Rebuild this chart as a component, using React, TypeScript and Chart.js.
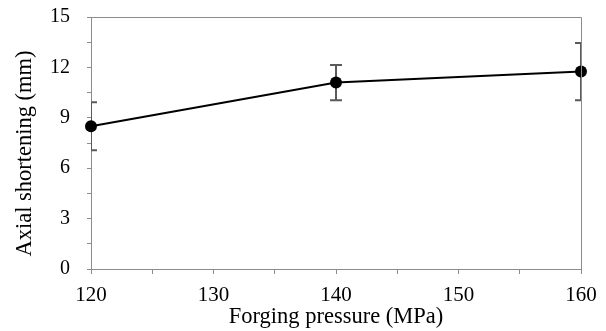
import React, { useEffect, useRef } from "react";
import { Chart, registerables } from "chart.js";

Chart.register(...registerables);

const pressures = [120, 140, 160];
const shortening = [8.5, 11.1, 11.75];
const errors = [1.43, 1.05, 1.7];
const xTickLabels = ["120", "130", "140", "150", "160"];
const yTickLabels = ["0", "3", "6", "9", "12", "15"];
const xTitle = "Forging pressure (MPa)";
const yTitle = "Axial shortening (mm)";

const FONT = "'Liberation Serif', 'Times New Roman', serif";
const AXIS_GRAY = "#8c8c8c";
const ERR_GRAY = "#5a5a5a";

const errorBarPlugin = {
  id: "errorBars",
  beforeDatasetsDraw(chart: any) {
    const { ctx, chartArea, scales } = chart;
    ctx.save();
    ctx.beginPath();
    ctx.rect(chartArea.left, chartArea.top, chartArea.right - chartArea.left, chartArea.bottom - chartArea.top);
    ctx.clip();
    ctx.strokeStyle = ERR_GRAY;
    ctx.lineWidth = 2;
    const cap = 6;
    pressures.forEach((p, i) => {
      const x = scales.x.getPixelForValue(p);
      const yTop = scales.y.getPixelForValue(shortening[i] + errors[i]);
      const yBot = scales.y.getPixelForValue(shortening[i] - errors[i]);
      ctx.beginPath();
      ctx.moveTo(x, yTop);
      ctx.lineTo(x, yBot);
      ctx.moveTo(x - cap, yTop);
      ctx.lineTo(x + cap, yTop);
      ctx.moveTo(x - cap, yBot);
      ctx.lineTo(x + cap, yBot);
      ctx.stroke();
    });
    ctx.restore();
  },
  afterDraw(chart: any) {
    const { ctx, chartArea } = chart;
    ctx.save();
    ctx.strokeStyle = AXIS_GRAY;
    ctx.lineWidth = 1;
    ctx.beginPath();
    ctx.moveTo(chartArea.left, chartArea.top + 0.5);
    ctx.lineTo(chartArea.right + 0.5, chartArea.top + 0.5);
    ctx.lineTo(chartArea.right + 0.5, chartArea.bottom);
    ctx.stroke();
    // y axis title
    ctx.translate(25, 153.5);
    ctx.rotate(-Math.PI / 2);
    ctx.fillStyle = "#000";
    ctx.font = `22.5px ${FONT}`;
    ctx.textAlign = "center";
    ctx.textBaseline = "middle";
    ctx.fillText(yTitle, 0, 0);
    ctx.restore();
  },
};

export default function App() {
  const ref = useRef<HTMLCanvasElement | null>(null);
  useEffect(() => {
    document.body.style.margin = "0";
    const canvas = ref.current;
    if (!canvas) return;
    const chart = new Chart(canvas, {
      type: "line",
      data: {
        datasets: [
          {
            data: pressures.map((p, i) => ({ x: p, y: shortening[i] })),
            borderColor: "#000",
            backgroundColor: "#000",
            borderWidth: 2,
            pointRadius: 6,
            pointBackgroundColor: "#000",
            pointBorderColor: "#000",
            pointBorderWidth: 0,
            tension: 0,
            clip: false as any,
          },
        ],
      },
      options: {
        animation: false,
        responsive: false,
        devicePixelRatio: 1,
        layout: { padding: { top: 17, right: 25, left: 0, bottom: 0 } },
        plugins: { legend: { display: false }, tooltip: { enabled: false } },
        scales: {
          x: {
            type: "linear",
            min: 120,
            max: 160,
            afterFit: (s: any) => {
              s.height = 62;
              s.paddingLeft = 0;
              s.paddingRight = 0;
            },
            afterBuildTicks: (s: any) => {
              s.ticks = [120, 125, 130, 135, 140, 145, 150, 155, 160].map((v) => ({ value: v }));
            },
            ticks: {
              autoSkip: false,
              maxRotation: 0,
              padding: 9,
              color: "#000",
              font: { family: FONT, size: 21 },
              callback: (v: any) => {
                const s = String(v);
                return xTickLabels.includes(s) ? s : "";
              },
            },
            grid: { drawOnChartArea: false, drawTicks: true, tickLength: 5, color: AXIS_GRAY },
            border: { color: AXIS_GRAY, width: 1 },
            title: {
              display: true,
              text: xTitle,
              color: "#000",
              font: { family: FONT, size: 22.5 },
              padding: { top: 0, bottom: 0 },
            },
          },
          y: {
            type: "linear",
            min: 0,
            max: 15,
            afterFit: (s: any) => {
              s.width = 91;
              s.paddingTop = 0;
              s.paddingBottom = 0;
            },
            afterBuildTicks: (s: any) => {
              const t = [];
              for (let k = 0; k <= 10; k++) t.push({ value: k * 1.5 });
              s.ticks = t;
            },
            ticks: {
              autoSkip: false,
              padding: 17,
              color: "#000",
              font: { family: FONT, size: 20 },
              callback: (v: any) => {
                const s = String(v);
                return yTickLabels.includes(s) ? s : "";
              },
            },
            grid: { drawOnChartArea: false, drawTicks: true, tickLength: 4, color: AXIS_GRAY },
            border: { color: AXIS_GRAY, width: 1 },
            title: { display: false },
          },
        },
      },
      plugins: [errorBarPlugin],
    });
    return () => chart.destroy();
  }, []);
  return (
    <div style={{ position: "fixed", left: 0, top: 0, width: 606, height: 331, background: "#fff" }}>
      <canvas ref={ref} width={606} height={331} style={{ width: 606, height: 331, display: "block" }} />
    </div>
  );
}
